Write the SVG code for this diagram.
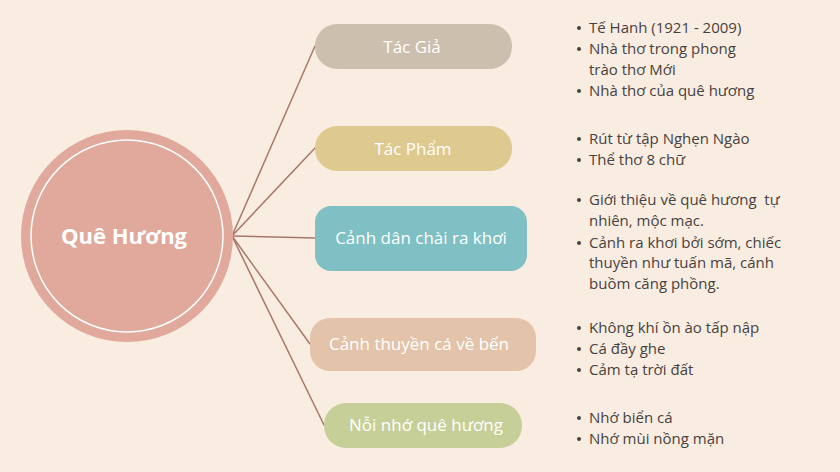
<svg xmlns="http://www.w3.org/2000/svg" width="840" height="472" viewBox="0 0 840 472">
<style>
.bg{fill:#f9ede1}
.edge{stroke:#a9766b;stroke-width:1.5;fill:none;stroke-linecap:round}
.lbl{font-family:"Open Sans","Noto Sans","DejaVu Sans",sans-serif;font-size:17px;fill:#ffffff;text-anchor:middle}
.root{font-family:"Open Sans","Noto Sans","DejaVu Sans",sans-serif;font-size:22px;font-weight:bold;fill:#ffffff;text-anchor:middle}
.note{font-family:"Open Sans","Noto Sans","DejaVu Sans",sans-serif;font-size:15px;fill:#47413f;white-space:pre}
.dot{fill:#47413f}
</style>
<rect class="bg" x="0" y="0" width="840" height="472"/>
<g id="connectors">
<line class="edge" x1="232" y1="236" x2="315" y2="46"/>
<line class="edge" x1="232" y1="236" x2="315" y2="148"/>
<line class="edge" x1="232" y1="236" x2="315" y2="238"/>
<line class="edge" x1="232" y1="236" x2="310" y2="344"/>
<line class="edge" x1="232" y1="236" x2="324" y2="425"/>
</g>
<g id="node-root">
<circle cx="127" cy="236" r="106" fill="#e0a99b"/>
<circle cx="127" cy="236" r="96" fill="none" stroke="#ffffff" stroke-width="1.5"/>
<text class="root" x="124" y="244">Quê Hương</text>
</g>
<g id="node-tacgia">
<rect x="315" y="24" width="197" height="45" rx="22" fill="#cdbfae"/>
<text class="lbl" x="412" y="53">Tác Giả</text>
</g>
<g id="node-tacpham">
<rect x="315" y="126" width="197" height="45" rx="22" fill="#dec98f"/>
<text class="lbl" x="413" y="155">Tác Phẩm</text>
</g>
<g id="node-canhdanchai">
<rect x="315" y="206" width="212" height="65" rx="16" fill="#7ec0c4"/>
<text class="lbl" x="421" y="244">Cảnh dân chài ra khơi</text>
</g>
<g id="node-canhthuyen">
<rect x="310" y="318" width="226" height="53" rx="20" fill="#e3c3a9"/>
<text class="lbl" x="419" y="350">Cảnh thuyền cá về bến</text>
</g>
<g id="node-noinho">
<rect x="324" y="403" width="198" height="45" rx="22" fill="#c6cf98"/>
<text class="lbl" x="426" y="431">Nỗi nhớ quê hương</text>
</g>
<g id="notes-tacgia">
<circle class="dot" cx="579" cy="28" r="2"/>
<text class="note" x="589" y="33">Tế Hanh (1921 - 2009)</text>
<circle class="dot" cx="579" cy="49" r="2"/>
<text class="note" x="589" y="54">Nhà thơ trong phong</text>
<text class="note" x="589" y="75">trào thơ Mới</text>
<circle class="dot" cx="579" cy="91" r="2"/>
<text class="note" x="589" y="96">Nhà thơ của quê hương</text>
</g>
<g id="notes-tacpham">
<circle class="dot" cx="579" cy="139" r="2"/>
<text class="note" x="589" y="144">Rút từ tập Nghẹn Ngào</text>
<circle class="dot" cx="579" cy="160" r="2"/>
<text class="note" x="589" y="165">Thể thơ 8 chữ</text>
</g>
<g id="notes-canhdanchai">
<circle class="dot" cx="579" cy="200" r="2"/>
<text class="note" x="589" y="205" xml:space="preserve">Giới thiệu về quê hương  tự</text>
<text class="note" x="589" y="226">nhiên, mộc mạc.</text>
<circle class="dot" cx="579" cy="243" r="2"/>
<text class="note" x="589" y="248">Cảnh ra khơi bởi sớm, chiếc</text>
<text class="note" x="589" y="268">thuyền như tuấn mã, cánh</text>
<text class="note" x="589" y="289">buồm căng phồng.</text>
</g>
<g id="notes-canhthuyen">
<circle class="dot" cx="579" cy="328" r="2"/>
<text class="note" x="589" y="333">Không khí ồn ào tấp nập</text>
<circle class="dot" cx="579" cy="349" r="2"/>
<text class="note" x="589" y="354">Cá đầy ghe</text>
<circle class="dot" cx="579" cy="370" r="2"/>
<text class="note" x="589" y="375">Cảm tạ trời đất</text>
</g>
<g id="notes-noinho">
<circle class="dot" cx="579" cy="418" r="2"/>
<text class="note" x="589" y="423">Nhớ biển cá</text>
<circle class="dot" cx="579" cy="439" r="2"/>
<text class="note" x="589" y="444">Nhớ mùi nồng mặn</text>
</g>
</svg>
